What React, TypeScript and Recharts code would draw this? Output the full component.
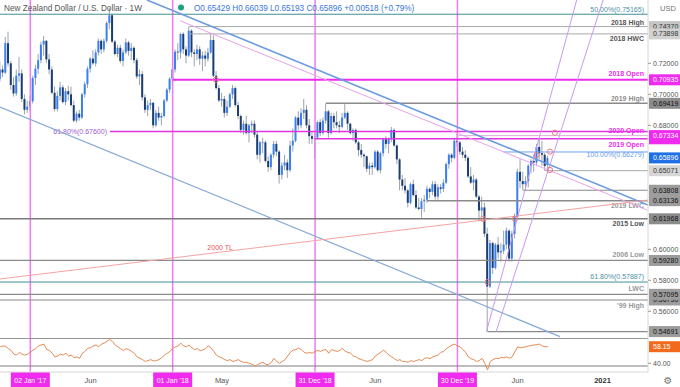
import React from "react";
import { ComposedChart, Bar, Line, XAxis, YAxis, ReferenceLine, ReferenceDot } from "recharts";

// ---------- DATA ----------
// weekly candles, NZD/USD; week index 0 = week of 02 Jan 2017
const FIRST_WEEK = -11;

const opens = [
  0.7100,0.7160,0.7140,0.7330,0.7200,0.7060,0.7005,0.7120,0.7135,0.6970,
  0.6900,0.6920,0.6955,0.7105,0.7165,0.7220,0.7320,0.7345,0.7225,0.7160,
  0.7010,0.6905,0.6990,0.7045,0.6950,0.7020,0.7000,0.6930,0.6830,0.6875,
  0.6850,0.7000,0.7065,0.7165,0.7230,0.7200,0.7270,0.7345,0.7290,0.7345,
  0.7460,0.7510,0.7340,0.7260,0.7300,0.7215,0.7270,0.7335,0.7280,0.7300,
  0.7220,0.7115,0.7130,0.6980,0.6900,0.6930,0.6945,0.6800,0.6880,0.6850,
  0.6860,0.6960,0.7030,0.7100,0.7160,0.7275,0.7270,0.7390,0.7290,0.7250,
  0.7410,0.7270,0.7260,0.7290,0.7230,0.7250,0.7230,0.7270,0.7350,0.7120,
  0.7040,0.6960,0.6970,0.6880,0.6920,0.7000,0.7040,0.6930,0.6860,0.6770,
  0.6810,0.6750,0.6800,0.6810,0.6740,0.6610,0.6690,0.6690,0.6570,0.6530,
  0.6610,0.6680,0.6630,0.6480,0.6540,0.6560,0.6510,0.6670,0.6700,0.6850,
  0.6800,0.6880,0.6900,0.6800,0.6730,0.6713,0.6720,0.6820,0.6750,0.6830,
  0.6890,0.6750,0.6860,0.6820,0.6800,0.6790,0.6850,0.6880,0.6810,0.6750,
  0.6770,0.6690,0.6640,0.6610,0.6600,0.6520,0.6540,0.6530,0.6630,0.6510,
  0.6620,0.6710,0.6680,0.6710,0.6770,0.6670,0.6580,0.6450,0.6410,0.6380,
  0.6300,0.6420,0.6350,0.6270,0.6260,0.6310,0.6320,0.6390,0.6370,0.6420,
  0.6340,0.6400,0.6390,0.6430,0.6550,0.6610,0.6590,0.6700,0.6690,0.6630,
  0.6610,0.6590,0.6470,0.6430,0.6450,0.6340,0.6250,0.6270,0.6100,0.5760,
  0.6040,0.5880,0.6030,0.5980,0.5990,0.6030,0.6120,0.5940,0.6100,0.6210,
  0.6500,0.6440,0.6420,0.6440,0.6540,0.6570,0.6560,0.6660,0.6620,0.6610,
  0.65429,
];

const highs = [
  0.7210,0.7185,0.7370,0.7404,0.7215,0.7110,0.7160,0.7240,0.7160,0.7000,
  0.6960,0.6990,0.7120,0.7190,0.7260,0.7340,0.7375,0.7350,0.7260,0.7180,
  0.7050,0.7020,0.7080,0.7060,0.7040,0.7055,0.7050,0.6960,0.6890,0.6900,
  0.7010,0.7080,0.7180,0.7240,0.7285,0.7290,0.7360,0.7355,0.7360,0.7470,
  0.7558,0.7520,0.7350,0.7320,0.7320,0.7290,0.7360,0.7345,0.7330,0.7310,
  0.7235,0.7160,0.7150,0.7000,0.6960,0.6970,0.6950,0.6900,0.6920,0.6880,
  0.6970,0.7040,0.7110,0.7170,0.7290,0.7330,0.7396,0.7400,0.7310,0.7437,
  0.7420,0.7290,0.7320,0.7310,0.7275,0.7280,0.7300,0.7395,0.7380,0.7150,
  0.7060,0.7010,0.6990,0.6960,0.7010,0.7060,0.7050,0.6950,0.6870,0.6830,
  0.6860,0.6810,0.6830,0.6830,0.6760,0.6700,0.6720,0.6700,0.6600,0.6620,
  0.6700,0.6700,0.6640,0.6560,0.6610,0.6580,0.6700,0.6780,0.6860,0.6890,
  0.6910,0.6970,0.6930,0.6840,0.6760,0.6750,0.6830,0.6840,0.6850,0.69419,
  0.6900,0.6880,0.6880,0.6890,0.6830,0.6880,0.6940,0.6890,0.6815,0.6780,
  0.6780,0.6700,0.6680,0.6620,0.6605,0.6560,0.6560,0.6640,0.6640,0.6630,
  0.6720,0.6730,0.6720,0.6790,0.6780,0.6675,0.6590,0.6480,0.6460,0.6390,
  0.6430,0.6450,0.6380,0.6330,0.6330,0.6350,0.6410,0.6400,0.6440,0.6440,
  0.6420,0.6420,0.6450,0.6560,0.6620,0.6620,0.6720,0.6756,0.6700,0.6660,
  0.6640,0.6600,0.6530,0.6480,0.6460,0.6350,0.6340,0.6300,0.6140,0.6060,
  0.6050,0.6040,0.6080,0.6040,0.6120,0.6140,0.6130,0.6120,0.6230,0.6520,
  0.6585,0.6500,0.6470,0.6550,0.6580,0.6610,0.6680,0.6716,0.6700,0.6620,
  0.66039,
];

const lows = [
  0.7080,0.7110,0.7130,0.7180,0.7030,0.6985,0.6990,0.7080,0.6950,0.6870,
  0.6880,0.6890,0.6940,0.7060,0.7130,0.7200,0.7250,0.7200,0.7130,0.7000,
  0.6890,0.6890,0.6960,0.6940,0.6930,0.6960,0.6920,0.6820,0.6818,0.6830,
  0.6840,0.6980,0.7040,0.7140,0.7190,0.7180,0.7250,0.7260,0.7270,0.7330,
  0.7420,0.7330,0.7250,0.7240,0.7200,0.7180,0.7260,0.7250,0.7220,0.7200,
  0.7100,0.7060,0.6960,0.6880,0.6860,0.6900,0.6780,0.6790,0.6830,0.6800,
  0.6850,0.6950,0.7010,0.7060,0.7140,0.7220,0.7230,0.7260,0.7200,0.7240,
  0.7240,0.7180,0.7220,0.7190,0.7150,0.7180,0.7210,0.7260,0.7110,0.7030,
  0.6950,0.6920,0.6850,0.6860,0.6910,0.6970,0.6920,0.6840,0.6750,0.6740,
  0.6740,0.6690,0.6750,0.6720,0.6580,0.6560,0.6620,0.6560,0.6500,0.6510,
  0.6590,0.6600,0.6424,0.6450,0.6510,0.6460,0.6500,0.6630,0.6690,0.6770,
  0.6780,0.6840,0.6780,0.6680,0.6680,0.6585,0.6710,0.6730,0.6740,0.6810,
  0.6720,0.6740,0.6780,0.6780,0.6750,0.6780,0.6840,0.6770,0.6740,0.6700,
  0.6680,0.6600,0.6590,0.6530,0.6500,0.6480,0.6480,0.6520,0.6500,0.6490,
  0.6600,0.6650,0.6620,0.6690,0.6660,0.6550,0.6380,0.6380,0.6360,0.6270,
  0.6290,0.6340,0.6260,0.6250,0.6204,0.6240,0.6300,0.6330,0.6350,0.6320,
  0.6320,0.6360,0.6370,0.6420,0.6520,0.6560,0.6580,0.6660,0.6610,0.6590,
  0.6570,0.6460,0.6420,0.6380,0.6330,0.6180,0.6210,0.6080,0.5469,0.5750,
  0.5840,0.5870,0.5940,0.5920,0.5970,0.6000,0.5920,0.5920,0.6070,0.6200,
  0.6395,0.6381,0.6380,0.6400,0.6490,0.6500,0.6540,0.6580,0.6540,0.6507,
  0.65193,
];

const closes = [
  0.7160,0.7140,0.7330,0.7200,0.7060,0.7005,0.7120,0.7135,0.6970,0.6900,
  0.6920,0.6955,0.7105,0.7165,0.7220,0.7320,0.7345,0.7225,0.7160,0.7010,
  0.6905,0.6990,0.7045,0.6950,0.7020,0.7000,0.6930,0.6830,0.6875,0.6850,
  0.7000,0.7065,0.7165,0.7230,0.7200,0.7270,0.7345,0.7290,0.7345,0.7460,
  0.7510,0.7340,0.7260,0.7300,0.7215,0.7270,0.7335,0.7280,0.7300,0.7220,
  0.7115,0.7130,0.6980,0.6900,0.6930,0.6945,0.6800,0.6880,0.6850,0.6860,
  0.6960,0.7030,0.7100,0.7160,0.7275,0.7270,0.73898,0.7290,0.7250,0.7410,
  0.7270,0.7260,0.7290,0.7230,0.7250,0.7230,0.7270,0.7350,0.7120,0.7040,
  0.6960,0.6970,0.6880,0.6920,0.7000,0.7040,0.6930,0.6860,0.6770,0.6810,
  0.6750,0.6800,0.6810,0.6740,0.6610,0.6690,0.6690,0.6570,0.6530,0.6610,
  0.6680,0.6630,0.6480,0.6540,0.6560,0.6510,0.6670,0.6700,0.6850,0.6800,
  0.6880,0.6900,0.6800,0.6730,0.6713,0.6720,0.6820,0.6750,0.6830,0.6890,
  0.6750,0.6860,0.6820,0.6800,0.6790,0.6850,0.6880,0.6810,0.6750,0.6770,
  0.6690,0.6640,0.6610,0.6600,0.6520,0.6540,0.6530,0.6630,0.6510,0.6620,
  0.6710,0.6680,0.6710,0.6770,0.6670,0.6580,0.6450,0.6410,0.6380,0.6300,
  0.6420,0.6350,0.6270,0.6260,0.6310,0.6320,0.6390,0.6370,0.6420,0.6340,
  0.6400,0.6390,0.6430,0.6550,0.6610,0.6590,0.6700,0.6690,0.6630,0.6610,
  0.6590,0.6470,0.6430,0.6450,0.6340,0.6250,0.6270,0.6100,0.5760,0.6040,
  0.5880,0.6030,0.5980,0.5990,0.6030,0.6120,0.5940,0.6100,0.6210,0.6500,
  0.6440,0.6420,0.6440,0.6540,0.6570,0.6560,0.6660,0.6620,0.6610,0.65378,
  0.65896,
];

const rsiValues = [
  58,59,58.5,56,54,50,49,52,50,49,
  50,52,54.5,56,59,60,61,55,54,51,
  47,48,50,49,51,48,49,46,47,45.5,
  51,53,56.5,57,59,60,58,61,62,64,
  66,64,60,58,56,54,56,55,53,51,
  47,45.5,44,42,43,44,42.5,43,44,46,
  49,51,53,56.5,58,59,62,59,58,60,
  57,55,56,54,54.5,56,59,57,53,49,
  47,46,44,43,44,42,43,44,42,41,
  41,40,39,37,38.5,40,41,39,38.5,41,
  45.5,42,40,42,44,48,52,54.5,55,56.5,
  55,52,51,52,51,53,54,53,54.5,55,
  51,55,54,53,54,56.5,53,52,51,48,
  47,45,44,43,42,43,44,48,50,52,
  54.5,52,49,47,45,43,44,42,42,41,
  43,42,43,44,43,45.5,46,45,47,48,
  49,52,53,56,58,60,61,59,58,55,
  52,47,45,44,42,43,45.5,40,32.7,42,
  44,45.5,45,46.5,46,47,45.5,47,52.7,58,
  57,57.5,58,59,59.5,60,60.5,61,59,58,
  58.15,
];

// horizontal levels
const levelPrices = [0.75165, 0.7437, 0.73898, 0.70935, 0.69419, 0.676, 0.67334, 0.6713, 0.66279, 0.65071, 0.63808, 0.63136, 0.61968, 0.5928, 0.57887, 0.57095, 0.5673, 0.54691];
const levelStartWeeks = [-11.07, 58, 58, 52, 108, 29.1, 156, 104, 172.8, 188, 180, 144.8, -11.07, -11.07, -11.07, -11.07, -11.07, 167];
const levelNames = ["50.00%(0.75165)", "2018 High", "2018 HWC", "2018 Open", "2019 High", "61.80%(0.67600)", "2020 Open", "2019 Open", "100.00%(0.66279)", "", "", "2019 LWC", "2015 Low", "2006 Low", "61.80%(0.57887)", "LWC", "'99 High", ""];

// trend lines (week, price) -> (week, price)
const trendStartWeeks = [-11.07, 42.6, 54.7, -11.07, 166.6, 170.1];
const trendStartPrices = [0.69181, 0.76084, 0.74748, 0.58084, 0.54684, 0.54665];
const trendEndWeeks = [193.46, 225.6, 225.24, 225.6, 199.56, 209.2];
const trendEndPrices = [0.54368, 0.62858, 0.62535, 0.63181, 0.76084, 0.76084];

// circle markers
const markerWeeks = [67.8, 165.4, 167, 177, 184.9, 189.8, 189.8, 191.6];
const markerPrices = [0.70935, 0.61968, 0.57887, 0.61968, 0.6608, 0.6512, 0.663, 0.6752];

// period markers and time axis
const yearMarkerWeeks = [0, 52, 104, 156];
const timeTicks = [0, 22, 52, 70, 104, 126, 156, 178, 209];
const timeTickLabels = ["02 Jan '17", "Jun", "01 Jan '18", "May", "31 Dec '18", "Jun", "30 Dec '19", "Jun", "2021"];

// price axis labels
const priceTicks = [0.72, 0.70, 0.68, 0.60, 0.58, 0.56, 0.7437, 0.73898, 0.70935, 0.69419, 0.6713, 0.67334, 0.65896, 0.65071, 0.63808, 0.63136, 0.61968, 0.5928, 0.5673, 0.57095, 0.54691];
const hiddenPriceLabels = [0.6713];
const rsiTicks = [40, 58.15];

// ---------- LAYOUT / STYLE ----------
const W_MIN = -11.07;
const W_MAX = 225.6;
const P_MIN = 0.54277;
const P_MAX = 0.76084;
const R_MIN = 30.5;
const R_MAX = 67.65;
const FONT = "'Liberation Sans', Arial, sans-serif";
const MAGENTA = "#ee2bee";

const candles = closes.map((c, i) => ({
  w: FIRST_WEEK + i,
  o: opens[i],
  h: highs[i],
  l: lows[i],
  c,
  range: [lows[i], highs[i]],
  rsi: rsiValues[i],
}));

const levelStyles = [
  { stroke: "#3f8f99", sw: 1, color: "#4a90a4", bold: false, dy: -1.8 },
  { stroke: "#a8a8a8", sw: 1, color: "#555", bold: true, dy: -1.5 },
  { stroke: "#a8a8a8", sw: 1, color: "#555", bold: true, dy: 7 },
  { stroke: MAGENTA, sw: 2, color: MAGENTA, bold: true, dy: -3.5 },
  { stroke: "#8a8a8a", sw: 1.5, color: "#8c8c8c", bold: true, dy: -2.5 },
  { stroke: "#e233e2", sw: 1.5, color: "#9b59d0", bold: false, dy: 2.4, left: true },
  { stroke: "#dcb0dc", sw: 1, color: MAGENTA, bold: true, dy: -3 },
  { stroke: "#e233e2", sw: 1.5, color: MAGENTA, bold: true, dy: 8 },
  { stroke: "#6fa2ee", sw: 1, color: "#6a9de8", bold: false, dy: 5.5 },
  { stroke: "#a8a8a8", sw: 1, color: "#888", bold: true, dy: 0 },
  { stroke: "#8a8a8a", sw: 1.2, color: "#888", bold: true, dy: 0 },
  { stroke: "#8a8a8a", sw: 1.5, color: "#999", bold: true, dy: 7.5 },
  { stroke: "#7a7a7a", sw: 1.5, color: "#555", bold: true, dy: 7.5 },
  { stroke: "#8a8a8a", sw: 1.2, color: "#999", bold: true, dy: -3 },
  { stroke: "#3f8f99", sw: 1, color: "#4a90a4", bold: false, dy: -3 },
  { stroke: "#8a8a8a", sw: 1.2, color: "#999", bold: true, dy: -3 },
  { stroke: "#8a8a8a", sw: 1.2, color: "#999", bold: true, dy: 8.5 },
  { stroke: "#8a8a8a", sw: 1.2, color: "#888", bold: true, dy: 0 },
];

const trendStyles = [
  { stroke: "#86a9d6", sw: 1.2 },
  { stroke: "#6c9be0", sw: 1.6 },
  { stroke: "#e7a3ea", sw: 1 },
  { stroke: "#f5a3a3", sw: 1 },
  { stroke: "#c79af2", sw: 1 },
  { stroke: "#c79af2", sw: 1 },
];

const boxStyles: Record<string, { bg: string; fg: string }> = {
  "0.74370": { bg: "#c6c6c6", fg: "#333" },
  "0.73898": { bg: "#d2d2d2", fg: "#333" },
  "0.70935": { bg: MAGENTA, fg: "#fff" },
  "0.69419": { bg: "#8c8c8c", fg: "#111" },
  "0.67130": { bg: MAGENTA, fg: "#fff" },
  "0.67334": { bg: MAGENTA, fg: "#fff" },
  "0.65896": { bg: "#1f6fe5", fg: "#fff" },
  "0.65071": { bg: "#d6d6d6", fg: "#333" },
  "0.63808": { bg: "#9c9c9c", fg: "#111" },
  "0.63136": { bg: "#9c9c9c", fg: "#111" },
  "0.61968": { bg: "#8c8c8c", fg: "#111" },
  "0.59280": { bg: "#9c9c9c", fg: "#111" },
  "0.56730": { bg: "#9c9c9c", fg: "#111" },
  "0.57095": { bg: "#9c9c9c", fg: "#111" },
  "0.54691": { bg: "#9c9c9c", fg: "#111" },
};

const Candle = (props: any) => {
  const { x, y, width, height, payload } = props;
  if (!payload || x == null || y == null || height == null) return null;
  const top = height >= 0 ? y : y + height;
  const hgt = Math.abs(height);
  const { o, h, l, c } = payload;
  const k = hgt / (h - l);
  const cx = x + width / 2;
  const bTop = top + (h - Math.max(o, c)) * k;
  const bBot = top + (h - Math.min(o, c)) * k;
  const up = c >= o;
  return (
    <g>
      <line x1={cx} x2={cx} y1={top} y2={top + hgt} stroke="#9ba3ad" strokeWidth={1} />
      <rect x={cx - 1} y={bTop} width={2} height={Math.max(bBot - bTop, 0.8)} fill={up ? "#3a80f0" : "#1d3c70"} />
    </g>
  );
};

const LevelLabel = (props: any) => {
  const { viewBox, text, st } = props;
  if (!viewBox || !text) return null;
  const y = viewBox.y + st.dy;
  const x = st.left ? viewBox.x - 3 : viewBox.x + viewBox.width - 4;
  return (
    <text x={x} y={y} textAnchor="end" fontSize={7} fontFamily={FONT} fontWeight={st.bold ? 700 : 400} fill={st.color}>
      {text}
    </text>
  );
};

const TrendLabel = (props: any) => {
  const { viewBox } = props;
  if (!viewBox) return null;
  const t = 0.32;
  const x = viewBox.x + t * viewBox.width;
  const y = viewBox.y + viewBox.height - t * viewBox.height - 4;
  return (
    <text x={x} y={y} fontSize={7} fontFamily={FONT} fill="#e25555">2000 TL</text>
  );
};

const PriceTick = (props: any) => {
  const { x, y, payload } = props;
  const v = payload.value as number;
  const label = v.toFixed(5);
  const st = boxStyles[label];
  if (!st) {
    return (
      <g>
        <line x1={x} x2={x + 3} y1={y} y2={y} stroke="#999" />
        <text x={x + 5} y={y + 2.5} fontSize={7} fontFamily={FONT} fill="#555">{label}</text>
      </g>
    );
  }
  const hidden = hiddenPriceLabels.includes(v);
  return (
    <g>
      <rect x={x + 1} y={y - 5.5} width={32} height={11} fill={st.bg} />
      {!hidden && <text x={x + 5} y={y + 2.5} fontSize={7} fontFamily={FONT} fill={st.fg}>{label}</text>}
    </g>
  );
};

const RsiTick = (props: any) => {
  const { x, y, payload } = props;
  const v = payload.value as number;
  const label = v.toFixed(2);
  if (v === rsiValues[rsiValues.length - 1]) {
    return (
      <g>
        <rect x={x + 1} y={y - 5.5} width={32} height={11} fill="#f26b1d" />
        <text x={x + 5} y={y + 2.5} fontSize={7} fontFamily={FONT} fill="#fff">{label}</text>
      </g>
    );
  }
  return (
    <g>
      <line x1={x} x2={x + 3} y1={y} y2={y} stroke="#999" />
      <text x={x + 5} y={y + 2.5} fontSize={7} fontFamily={FONT} fill="#555">{label}</text>
    </g>
  );
};

const TimeTick = (props: any) => {
  const { x, y, payload } = props;
  const idx = timeTicks.indexOf(payload.value);
  const label = timeTickLabels[idx] ?? "";
  if (yearMarkerWeeks.includes(payload.value)) {
    return (
      <g>
        <rect x={x - 19.5} y={y + 0.5} width={39} height={15} fill={MAGENTA} />
        <text x={x} y={y + 11} textAnchor="middle" fontSize={7} fontFamily={FONT} fill="#fff">{label}</text>
      </g>
    );
  }
  return (
    <text x={x} y={y + 11} textAnchor="middle" fontSize={7.5} fontFamily={FONT} fill={label === "2021" ? "#333" : "#555"} fontWeight={label === "2021" ? 700 : 400}>
      {label}
    </text>
  );
};

export default function App() {
  const n = closes.length;
  const chg = closes[n - 1] - closes[n - 2];
  const pct = (chg / closes[n - 2]) * 100;
  const ohlcText = `O${opens[n - 1].toFixed(5)} H${highs[n - 1].toFixed(5)} L${lows[n - 1].toFixed(5)} C${closes[n - 1].toFixed(5)} ${chg >= 0 ? "+" : ""}${chg.toFixed(5)} (${pct >= 0 ? "+" : ""}${pct.toFixed(2)}%)`;

  return (
    <div style={{ position: "absolute", left: 0, top: 0, width: 680, height: 387, background: "#fff", overflow: "hidden", fontFamily: FONT }}>
      <div style={{ position: "absolute", left: 0, top: 0 }}>
        <ComposedChart width={680} height={338} data={candles} margin={{ top: 0, right: 0, bottom: 0, left: 0 }}>
          <XAxis dataKey="w" type="number" domain={[W_MIN, W_MAX]} allowDataOverflow hide />
          <YAxis
            orientation="right"
            type="number"
            width={32}
            domain={[P_MIN, P_MAX]}
            allowDataOverflow
            ticks={priceTicks}
            interval={0}
            tickSize={0}
            tickMargin={0}
            tickLine={false}
            axisLine={{ stroke: "#d6d6d6" }}
            tick={<PriceTick />}
          />
          {yearMarkerWeeks.map((w) => (
            <ReferenceLine key={`v${w}`} x={w} stroke="#ee7cf0" strokeWidth={1.5} ifOverflow="visible" />
          ))}
          {levelPrices.map((p, i) => (
            <ReferenceLine
              key={`h${i}`}
              segment={[{ x: levelStartWeeks[i], y: p }, { x: W_MAX, y: p }]}
              stroke={levelStyles[i].stroke}
              strokeWidth={levelStyles[i].sw}
              ifOverflow="visible"
              label={<LevelLabel text={levelNames[i]} st={levelStyles[i]} />}
            />
          ))}
          {trendStartWeeks.map((w, i) => (
            <ReferenceLine
              key={`t${i}`}
              segment={[{ x: w, y: trendStartPrices[i] }, { x: trendEndWeeks[i], y: trendEndPrices[i] }]}
              stroke={trendStyles[i].stroke}
              strokeWidth={trendStyles[i].sw}
              ifOverflow="hidden"
              label={i === 3 ? <TrendLabel /> : undefined}
            />
          ))}
          <Bar dataKey="range" barSize={2} isAnimationActive={false} shape={(p: any) => <Candle {...p} />} />
          {markerWeeks.map((w, i) => (
            <ReferenceDot key={`m${i}`} x={w} y={markerPrices[i]} r={2.6} fill="none" stroke="#f07a7a" strokeWidth={1} ifOverflow="visible" />
          ))}
        </ComposedChart>
      </div>
      <div style={{ position: "absolute", left: 0, top: 338 }}>
        <ComposedChart width={680} height={49} data={candles} margin={{ top: 0, right: 0, bottom: 0, left: 0 }}>
          <XAxis
            dataKey="w"
            type="number"
            domain={[W_MIN, W_MAX]}
            allowDataOverflow
            ticks={timeTicks}
            interval={0}
            height={15}
            tickSize={0}
            tickMargin={0}
            tickLine={false}
            axisLine={{ stroke: "#d6d6d6" }}
            tick={<TimeTick />}
          />
          <YAxis
            orientation="right"
            type="number"
            width={32}
            domain={[R_MIN, R_MAX]}
            allowDataOverflow
            ticks={rsiTicks}
            interval={0}
            tickSize={0}
            tickMargin={0}
            tickLine={false}
            axisLine={{ stroke: "#d6d6d6" }}
            tick={<RsiTick />}
          />
          {yearMarkerWeeks.map((w) => (
            <ReferenceLine key={`rv${w}`} x={w} stroke="#ee7cf0" strokeWidth={1.5} ifOverflow="visible" />
          ))}
          <ReferenceLine y={67.3} stroke="#7d7d7d" strokeWidth={1} ifOverflow="visible" />
          <ReferenceLine y={37.05} stroke="#7d7d7d" strokeWidth={1} ifOverflow="visible" />
          <Line dataKey="rsi" type="linear" stroke="#e58a54" strokeWidth={1} dot={false} isAnimationActive={false} />
        </ComposedChart>
      </div>
      <svg width={680} height={387} style={{ position: "absolute", left: 0, top: 0, pointerEvents: "none" }}>
        <text x={4} y={10.5} fontSize={8.2} fontFamily={FONT} fill="#555">New Zealand Dollar / U.S. Dollar · 1W</text>
        <circle cx={181} cy={7.5} r={3} fill="#1e9f84" />
        <text x={194} y={10.5} fontSize={8.2} fontFamily={FONT} fill="#3a76d8">{ohlcText}</text>
        <text x={660} y={10.5} fontSize={7.5} fontFamily={FONT} fill="#777">USD</text>
        <text x={668} y={384} textAnchor="middle" fontSize={10} fontFamily="'DejaVu Sans', sans-serif" fill="#777">⚙</text>
      </svg>
    </div>
  );
}
